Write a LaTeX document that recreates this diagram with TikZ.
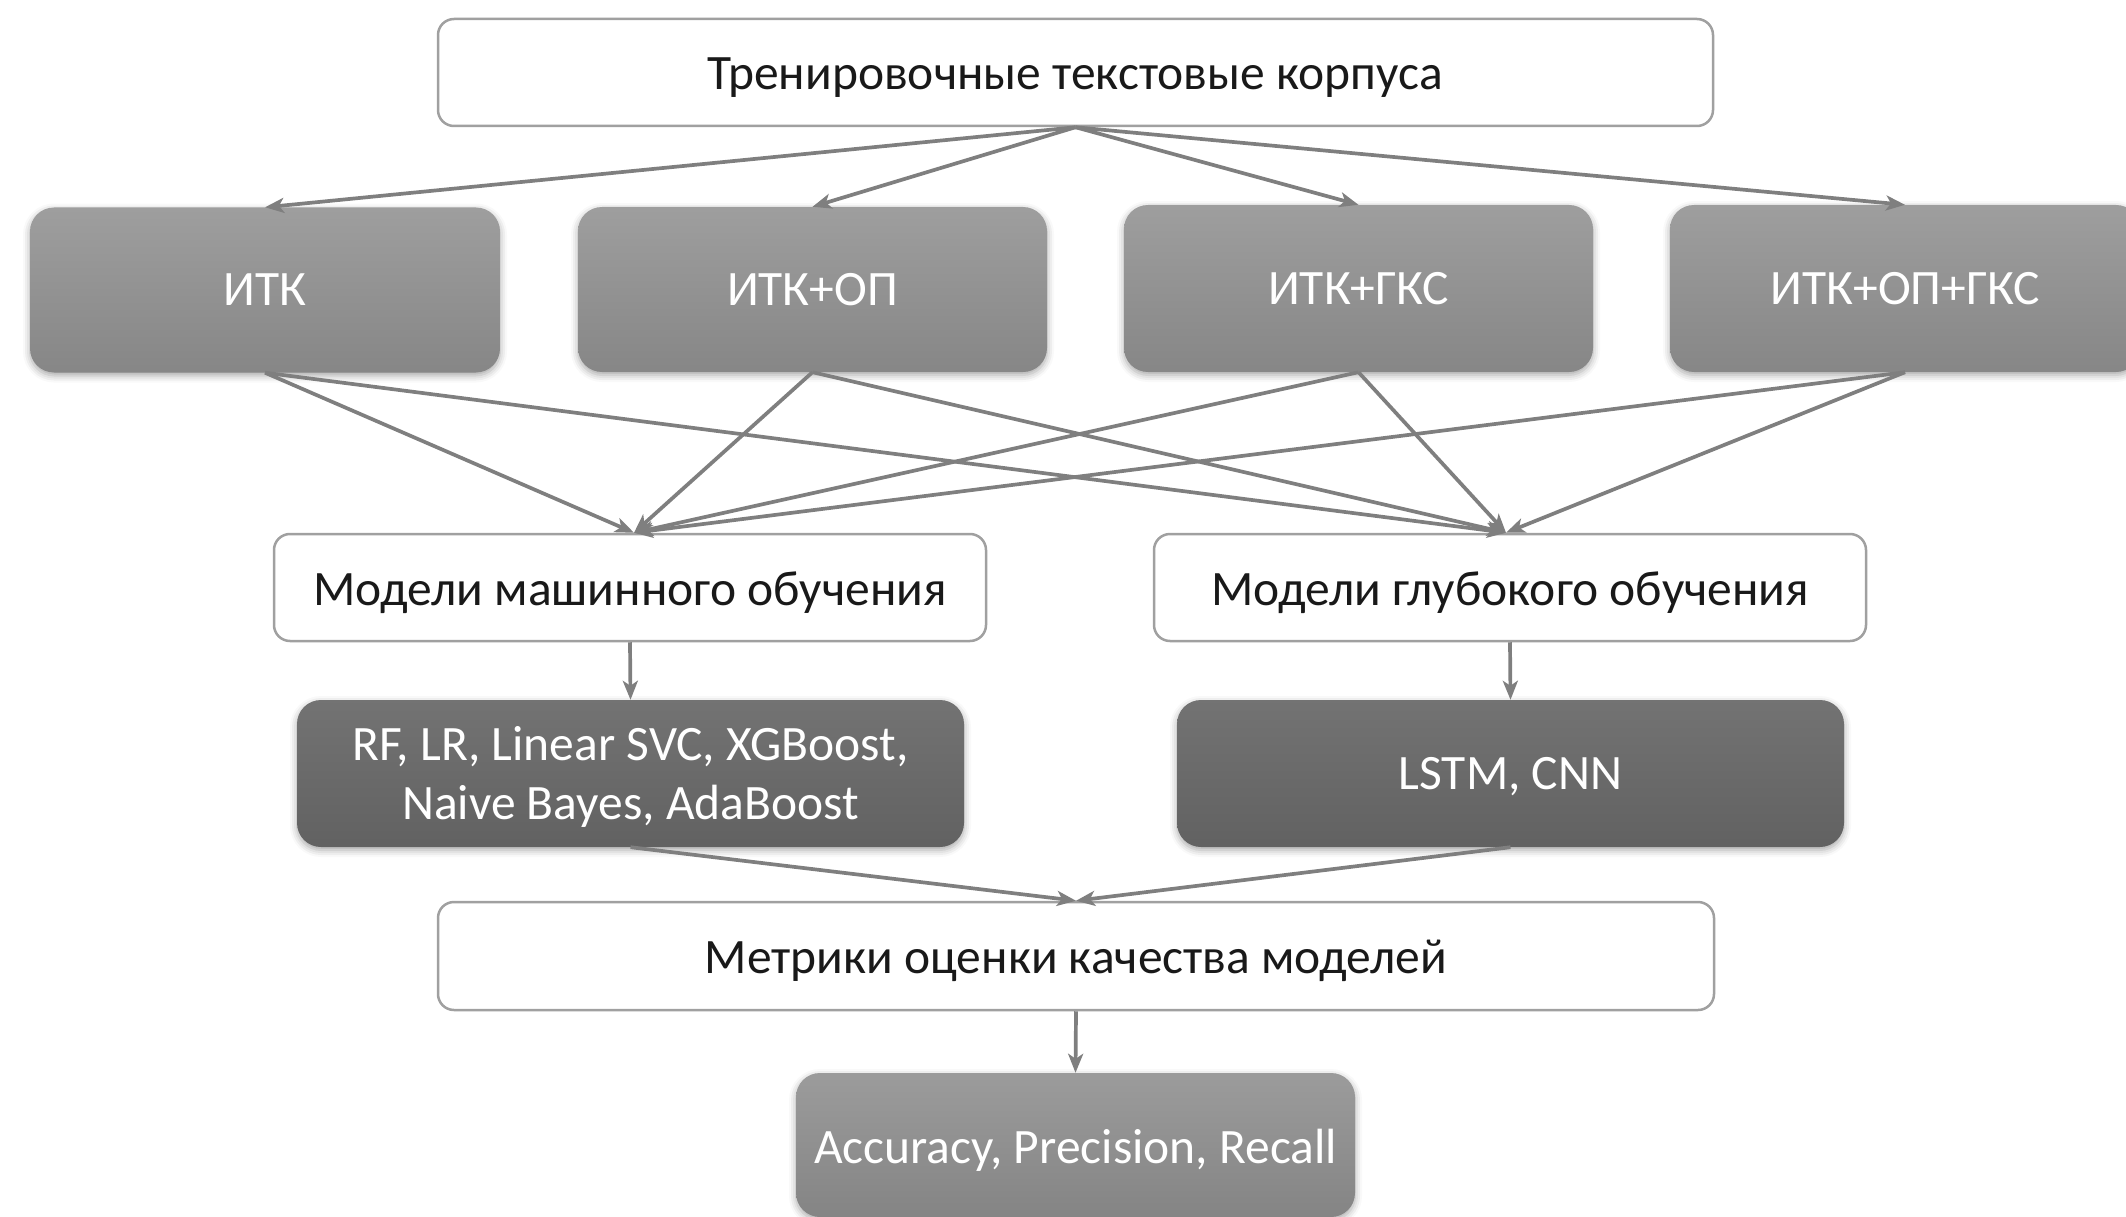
\documentclass[tikz,border=0pt]{standalone}
\usepackage{fontspec}
\setmainfont{Carlito}
\usetikzlibrary{arrows.meta,shadows.blur}
\definecolor{arrowgray}{HTML}{7F7F7F}
\definecolor{borderg}{HTML}{A0A0A0}
\newcommand{\lowtxt}[2][5pt]{\raisebox{-#1}[\height][\depth]{#2}}
\tikzset{
  whitebox/.style={draw=borderg, line width=2.5pt, fill=white, rounded corners=16pt,
    inner sep=0pt, font=\fontsize{49.5}{58}\selectfont, text=black!90},
  graybox/.style={rounded corners=24pt, inner sep=0pt, draw=none,
    top color=#1!100, bottom color=#1!85!black, text=white,
    font=\fontsize{49.5}{59}\selectfont, align=center,
    blur shadow={shadow xshift=0pt, shadow yshift=-3pt, shadow blur radius=7pt, shadow opacity=35}},
  graybox/.default={gray!75},
  conn/.style={draw=arrowgray, line width=3.7pt, -{Stealth[length=19pt,width=15pt,inset=5pt]}},
}
\begin{document}
\begin{tikzpicture}[x=1pt,y=-1pt]
\useasboundingbox (0,0) rectangle (2126,1217);
\clip (0,0) rectangle (2126,1217);
% top
\node[whitebox, minimum width=1275pt, minimum height=107pt] (top) at (1075.5,72.5) {\lowtxt{Тренировочные текстовые корпуса}};
% row 2
\colorlet{rowtwo}{black!38}
\node[graybox=rowtwo, minimum width=470pt, minimum height=165pt] (a) at (265,290) {ИТК};
\node[graybox=rowtwo, minimum width=469pt, minimum height=165pt] (b) at (812.5,289.5) {ИТК+ОП};
\node[graybox=rowtwo, minimum width=469pt, minimum height=167pt] (c) at (1358.5,288.5) {ИТК+ГКС};
\node[graybox=rowtwo, minimum width=470pt, minimum height=167pt] (d) at (1905,288.5) {ИТК+ОП+ГКС};
% row 3
\node[whitebox, minimum width=712pt, minimum height=107pt] (ml) at (630,587.5) {\lowtxt{Модели машинного обучения}};
\node[whitebox, minimum width=712pt, minimum height=107pt] (dl) at (1510,587.5) {\lowtxt{Модели глубокого обучения}};
% row 4
\colorlet{rowfour}{black!55}
\node[graybox=rowfour, minimum width=667pt, minimum height=147pt] (rf) at (630.5,773.5) {\lowtxt[3pt]{RF, LR, Linear SVC, XGBoost,}\\\lowtxt[3pt]{Naive Bayes, AdaBoost}};
\node[graybox=rowfour, minimum width=667pt, minimum height=147pt] (lstm) at (1510.5,773.5) {\lowtxt[3pt]{LSTM, CNN}};
% metrics
\node[whitebox, minimum width=1276pt, minimum height=108pt] (met) at (1076,956) {\lowtxt{Метрики оценки качества моделей}};
\colorlet{rowfive}{black!39}
\node[graybox=rowfive, minimum width=559pt, minimum height=144pt] (acc) at (1075.5,1145) {\lowtxt{Accuracy, Precision, Recall}};
% connectors
\foreach \n in {a,b,c,d} \draw[conn] (top.south) -- (\n.north);
\foreach \n in {a,b,c,d} {
  \draw[conn] (\n.south) -- ([xshift=4pt]ml.north);
  \draw[conn] (\n.south) -- ([xshift=-4pt]dl.north);
}
\draw[conn] (ml.south) -- (rf.north);
\draw[conn] (dl.south) -- (lstm.north);
\draw[conn] (rf.south) -- (met.north);
\draw[conn] (lstm.south) -- (met.north);
\draw[conn] (met.south) -- (acc.north);
\end{tikzpicture}
\end{document}
